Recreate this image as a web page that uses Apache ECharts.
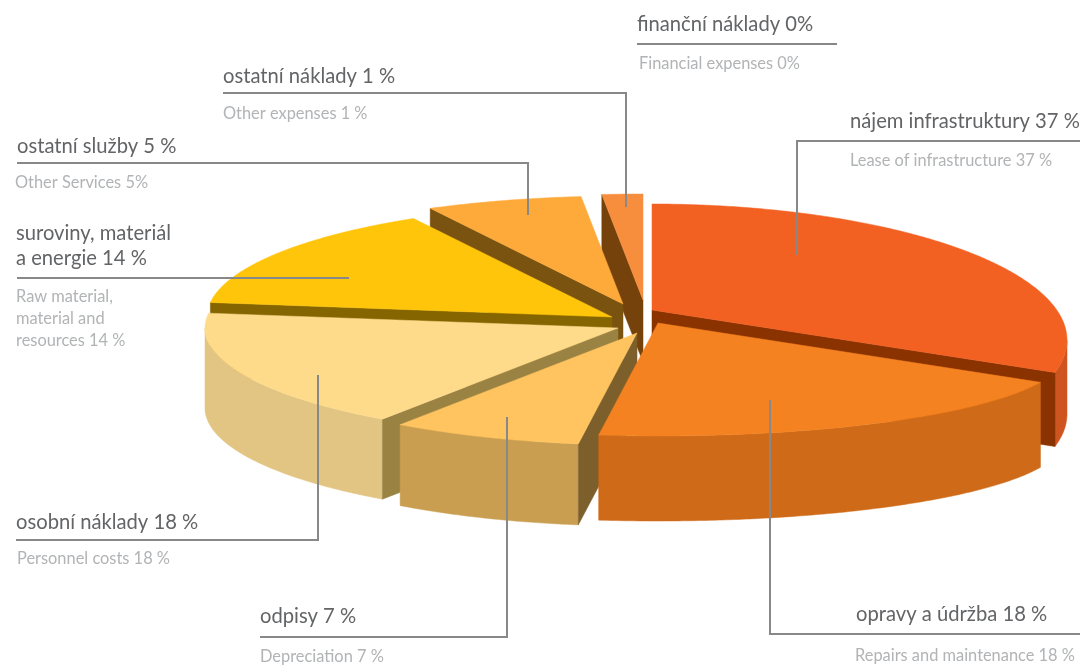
<!DOCTYPE html>
<html>
<head>
<meta charset="utf-8">
<style>html,body{margin:0;padding:0;background:#fff}#chart{width:1084px;height:665px}</style>
<script src="https://cdn.jsdelivr.net/npm/echarts@6/dist/echarts.min.js"></script>
</head>
<body>
<div id="chart"></div>
<script>
// Cost structure, share of each item in percent.
const categories = ['nájem infrastruktury', 'opravy a údržba', 'odpisy', 'osobní náklady',
  'suroviny, materiál a energie', 'ostatní služby', 'ostatní náklady', 'finanční náklady'];
const shares = [37, 18, 7, 18, 14, 5, 1, 0];

// Per-slice colours: top surface, rim, cut face.
const topColors  = ['#F36122', '#F58220', '#FFC45F', '#FEDB8B', '#FFC50B', '#FEAA3A', '#F68E3E', '#F68E3E'];
const rimColors  = ['#CF5520', '#CE6A18', '#C99E50', '#E2C583', '#C09000', '#C08028', '#B86A30', '#B86A30'];
const faceColors = ['#8A3200', '#8A4A10', '#7C5F2A', '#9A8243', '#846500', '#7A5310', '#74420A', '#74420A'];

// Exploded layout of each slice: apex, rim ellipse centre below the apex, radii, thickness.
const apexes  = [[652, 310], [658, 323], [637, 333], [618, 328], [612, 317], [623, 304], [643, 300], [643, 300]];
const centreDrop = [30, 33, 0, 0, 0, 0, 0, 0];
const radiiX  = [415, 405, 412, 413, 405, 415, 410, 410];
const radiiY  = [136, 80, 112, 111, 113, 108, 106, 106];
const depths  = [74, 85, 81, 80, 75, 75, 62, 62];
const paintOrder = [6, 5, 4, 0, 3, 2, 1];

const TILT = 0.267;          // ratio of the disc's apparent height to its width

const rad = d => d * Math.PI / 180;
const total = shares.reduce((a, b) => a + b, 0);
const startAngles = shares.map((_, i) => shares.slice(0, i).reduce((a, b) => a + b, 0) / total * 360);

// Angle on the disc as seen from the tilted viewpoint, all in degrees.
function viewAngle(t) {
  const half = Math.sin(rad(t / 2));
  const squeeze = 11.5 * (t > 180 ? Math.sqrt(Math.max(half, 0)) : half);
  return t - squeeze + 2.5 * Math.sin(rad(2 * t));
}

// Point where a ray from the apex meets the slice's rim ellipse.
function rimPoint(i, theta) {
  const phi = rad(viewAngle(theta));
  const [ax, ay] = apexes[i];
  const dx = Math.sin(phi), dy = -TILT * Math.cos(phi);
  const oy = -centreDrop[i];
  const rx = radiiX[i], ry = radiiY[i];
  const a = dx * dx / (rx * rx) + dy * dy / (ry * ry);
  const b = 2 * dy * oy / (ry * ry);
  const c = oy * oy / (ry * ry) - 1;
  const s = (-b + Math.sqrt(b * b - 4 * a * c)) / (2 * a);
  return [ax + s * dx, ay + s * dy];
}

function renderSlice(params, api) {
  const i = api.value(0);
  const share = api.value(1);
  if (!share) return null;
  const from = startAngles[i];
  const sweep = share / total * 360;
  const to = from + sweep;
  const steps = Math.max(6, Math.ceil(sweep * 2));
  const arc = [];
  for (let k = 0; k <= steps; k++) arc.push(rimPoint(i, from + sweep * k / steps));
  const apex = apexes[i], h = depths[i];
  const down = p => [p[0], p[1] + h];
  const poly = (points, fill) => ({
    type: 'polygon', shape: { points },
    style: { fill, stroke: fill, lineWidth: 0.5 }
  });
  const children = [];
  // Only the stretch of rim on the near half of the ellipse can be seen.
  const nearY = apex[1] + centreDrop[i];
  const near = arc.filter(p => p[1] >= nearY);
  if (near.length > 1) {
    children.push(poly(near.concat(near.map(down).reverse()), rimColors[i]));
  }
  // A cut face shows only when it turns toward the viewer.
  if (Math.sin(rad(from)) < 0) {
    children.push(poly([apex, arc[0], down(arc[0]), down(apex)], faceColors[i]));
  }
  if (Math.sin(rad(to)) > 0) {
    children.push(poly([apex, arc[steps], down(arc[steps]), down(apex)], faceColors[i]));
  }
  children.push(poly([apex].concat(arc), topColors[i]));
  return { type: 'group', children };
}

// Leader lines and captions around the pie.
const leaders = [
  [[637, 44], [837, 44]],
  [[223, 93], [626, 93], [626, 207]],
  [[17, 163], [528, 163], [528, 215]],
  [[17, 278], [349, 278]],
  [[16, 540], [318, 540], [318, 375]],
  [[260, 637], [507, 637], [507, 417]],
  [[1080, 634], [770, 634], [770, 400]],
  [[1080, 141], [797, 141], [797, 255]]
];
const mainLabels = [
  ['finanční náklady 0%', 637, 24],
  ['ostatní náklady 1 %', 223, 76],
  ['ostatní služby 5 %', 17, 146],
  ['suroviny, materiál', 16, 233],
  ['a energie 14 %', 16, 258],
  ['osobní náklady 18 %', 16, 522],
  ['odpisy 7 %', 260, 616],
  ['opravy a údržba 18 %', 856, 614],
  ['nájem infrastruktury 37 %', 850, 121]
];
const subLabels = [
  ['Financial expenses 0%', 639, 64],
  ['Other expenses 1 %', 223, 114],
  ['Other Services 5%', 15, 183],
  ['Raw material,', 16, 297],
  ['material and', 16, 319],
  ['resources 14 %', 16, 341],
  ['Personnel costs 18 %', 17, 559],
  ['Depreciation 7 %', 260, 657],
  ['Repairs and maintenance 18 %', 855, 656],
  ['Lease of infrastructure 37 %', 850, 161]
];

const caption = (fill, size) => ([text, x, y]) => ({
  type: 'text', z: 20, silent: true,
  style: { text, x, y, fill, font: size + 'px Lato', textAlign: 'left', textVerticalAlign: 'middle' }
});

const chart = echarts.init(document.getElementById('chart'), null, { renderer: 'canvas' });
chart.setOption({
  animation: false,
  backgroundColor: '#ffffff',
  series: [{
    type: 'custom',
    coordinateSystem: 'none',
    silent: true,
    z: 2,
    renderItem: renderSlice,
    encode: { value: 1 },
    data: paintOrder.map(i => ({ name: categories[i], value: [i, shares[i]] }))
  }],
  graphic: {
    elements: [
      ...leaders.map(points => ({
        type: 'polyline', z: 15, silent: true,
        shape: { points },
        style: { stroke: '#87888A', lineWidth: 2, fill: null }
      })),
      ...mainLabels.map(caption('#636466', 20.2)),
      ...subLabels.map(caption('#B1B3B5', 16.4))
    ]
  }
});
</script>
</body>
</html>
